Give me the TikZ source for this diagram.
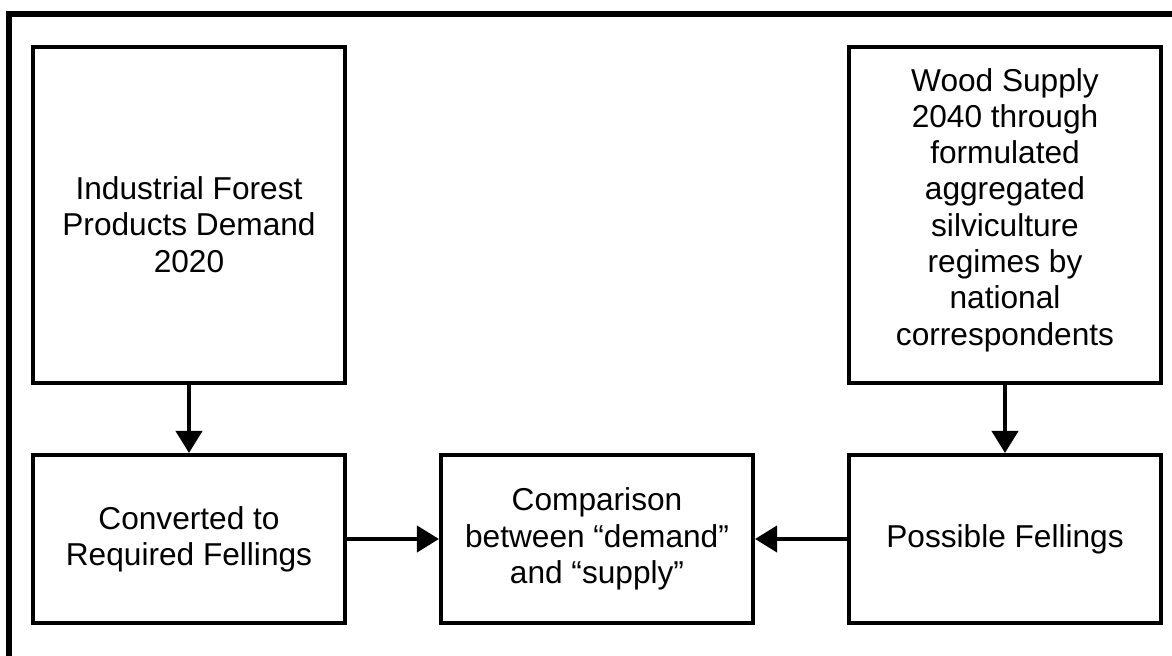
\documentclass[tikz,border=0pt]{standalone}
\usepackage{fontspec}
\setmainfont{Liberation Sans}
\usetikzlibrary{arrows.meta}

\tikzset{
  box/.style={draw, line width=0.1cm, align=center, minimum width=7.8cm,
    font=\fontsize{22.5}{25.8}\selectfont},
  tallbox/.style={box, minimum height=8.4cm},
  lowbox/.style={box, minimum height=4.2cm},
  flow/.style={line width=0.1cm, -{Triangle[width=0.65cm,length=0.55cm]}}
}

\begin{document}
\begin{tikzpicture}[x=0.025cm, y=-0.025cm]
 \useasboundingbox (0,0) rectangle (1172,656);
 \clip (0,0) rectangle (1172,656);

 % outer frame
 \draw [line width=0.15cm] (9,700) -- (9,14) -- (1220,14);

 \node [tallbox] (demand) at (189,215) {\rule{0pt}{30pt}Industrial Forest\\Products Demand\\2020};
 \node [tallbox] (supply) at (1005,215) {Wood Supply\\2040 through\\formulated\\aggregated\\silviculture\\regimes by\\national\\correspondents\rule[-12pt]{0pt}{0pt}};

 \node [lowbox] (required) at (189,539) {Converted to\\Required Fellings};
 \node [lowbox] (compare) at (597,539) {Comparison\\between “demand”\\and “supply”};
 \node [lowbox] (possible) at (1005,539) {Possible Fellings};

 \draw [flow] (demand) -- (required);
 \draw [flow] (supply) -- (possible);
 \draw [flow] (required) -- (compare);
 \draw [flow] (possible) -- (compare);
\end{tikzpicture}
\end{document}
